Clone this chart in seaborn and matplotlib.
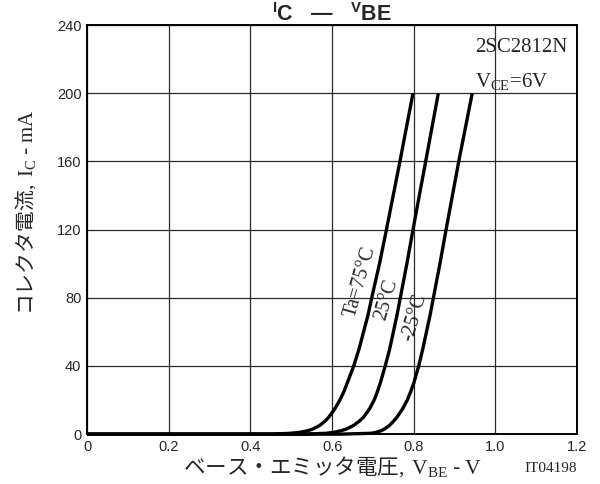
import pandas as pd
import matplotlib
matplotlib.use('Agg')
import matplotlib.pyplot as plt
import seaborn as sns

# --- data (Ic vs Vbe, 2SC2812N) ---
ic_ma = [0, 0, 0.5, 1, 2, 3, 5, 7.5, 10, 15, 20, 25, 30, 40, 50, 60, 70,
         80, 100, 120, 160, 200]
vbe_75c = [0.0, 0.45, 0.498, 0.519, 0.540, 0.553, 0.569, 0.582, 0.592,
           0.607, 0.619, 0.629, 0.637, 0.653, 0.666, 0.677, 0.688, 0.697,
           0.716, 0.733, 0.766, 0.798]
vbe_25c = [0.0, 0.53, 0.585, 0.603, 0.622, 0.635, 0.652, 0.666, 0.677,
           0.692, 0.703, 0.711, 0.718, 0.730, 0.741, 0.750, 0.759, 0.767,
           0.783, 0.798, 0.829, 0.86]
vbe_m25c = [0.0, 0.62, 0.695, 0.707, 0.72, 0.728, 0.74, 0.75, 0.759, 0.773,
            0.784, 0.7925, 0.80, 0.812, 0.822, 0.831, 0.840, 0.848, 0.864,
            0.879, 0.91, 0.943]
temp_labels = ['Ta=75°C', '25°C', '-25°C']

x_ticks = [0, 0.2, 0.4, 0.6, 0.8, 1.0, 1.2]
x_ticklabels = ['0', '0.2', '0.4', '0.6', '0.8', '1.0', '1.2']
y_ticks = [0, 40, 80, 120, 160, 200, 240]

df = pd.concat([
    pd.DataFrame({'vbe': v, 'ic': ic_ma, 'temp': t})
    for v, t in zip([vbe_75c, vbe_25c, vbe_m25c], temp_labels)
])

sns.set_style('white')
plt.rcParams['font.family'] = ['Liberation Sans', 'DejaVu Sans']
plt.rcParams['mathtext.fontset'] = 'custom'
plt.rcParams['mathtext.rm'] = 'Liberation Serif'
plt.rcParams['mathtext.it'] = 'Liberation Serif:italic'
plt.rcParams['mathtext.bf'] = 'Liberation Sans:bold'
plt.rcParams['mathtext.sf'] = 'Liberation Sans'

serif = ['Liberation Serif', 'Noto Sans CJK JP']

fig = plt.figure(figsize=(6, 4.84), dpi=100)
ax = fig.add_axes([0.145, 0.103, 0.817, 0.845])

for t in temp_labels:
    sub = df[df['temp'] == t]
    sns.lineplot(data=sub, x='vbe', y='ic', ax=ax, color='black', lw=2.4,
                 sort=False, estimator=None, legend=False, clip_on=False,
                 solid_capstyle='butt')

ax.set_xlim(0, 1.2)
ax.set_ylim(0, 240)
ax.set_xticks(x_ticks)
ax.set_xticklabels(x_ticklabels)
ax.set_yticks(y_ticks)
ax.tick_params(length=0, labelsize=10.5, pad=4)
ax.grid(True, color='#2a2a2a', lw=0.9)
for s in ax.spines.values():
    s.set_color('black')
    s.set_linewidth(1.4)

ax.set_xlabel('ベース・エミッタ電圧$\\mathrm{,\\ V_{BE}}$ - $\\mathrm{V}$',
              family='Noto Sans CJK JP', fontsize=15.5)
ax.xaxis.set_label_coords(0.5, -0.048)
ax.set_ylabel('コレクタ電流$\\mathrm{,\\ I_C}$ - $\\mathrm{mA}$',
              family='Noto Sans CJK JP', fontsize=15)
ax.yaxis.set_label_coords(-0.1, 0.543)
ax.set_title('$\\mathbf{^{I}C}$   \u2014   $\\mathbf{^{V}BE}$', fontsize=15.5,
             fontweight='bold', pad=3)

# curve labels, rotated along the curves
label_pos = [(0.669, 89.5), (0.734, 79), (0.801, 68.5)]
for t, (lx, ly) in zip(temp_labels, label_pos):
    ax.text(lx, ly, t, rotation=74, family=serif, fontsize=14.5,
            ha='center', va='center')

ax.text(0.95, 224, '2SC2812N', family=serif, fontsize=15, ha='left',
        va='baseline')
ax.text(0.95, 204, '$\\mathrm{V_{CE}}$=6V', family=serif, fontsize=15,
        ha='left', va='baseline')
fig.text(0.962, 0.025, 'IT04198', family=serif, fontsize=11, ha='right',
         va='baseline')

plt.savefig('out.png', dpi=100)
